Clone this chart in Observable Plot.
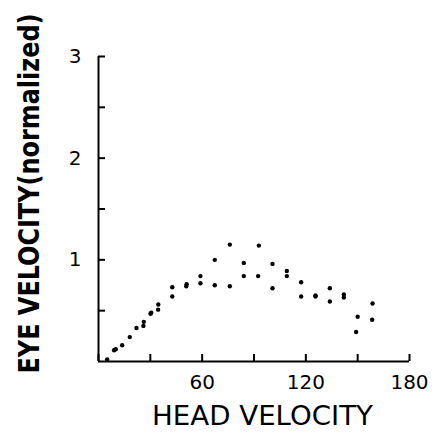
<!DOCTYPE html>
<html>
<head>
<meta charset="utf-8">
<script src="https://cdn.jsdelivr.net/npm/d3@7"></script>
<script src="https://cdn.jsdelivr.net/npm/@observablehq/plot@0.6"></script>
<style>
  html, body { margin: 0; padding: 0; background: #fff; }
  #chart svg { display: block; }
</style>
</head>
<body>
<div id="chart"></div>
<script>
// Data
const headVelocity = [5, 9, 10, 13.7, 18.1, 22, 26, 26.2, 30.1, 30.5, 34.5, 34.6, 42.7, 42.7, 50.8, 51, 59, 59, 67.3, 67.3, 76, 76, 84.1, 84.1, 92.4, 92.8, 100.7, 100.7, 109, 109, 117.3, 117.3, 125.6, 125.6, 133.9, 133.9, 142, 142, 149.1, 150, 158.4, 158.6];
const eyeVelocity  = [0.02, 0.11, 0.12, 0.16, 0.24, 0.33, 0.35, 0.39, 0.47, 0.48, 0.51, 0.56, 0.64, 0.73, 0.74, 0.76, 0.77, 0.84, 0.75, 1.00, 0.74, 1.15, 0.84, 0.97, 0.84, 1.14, 0.72, 0.96, 0.84, 0.89, 0.64, 0.78, 0.64, 0.65, 0.59, 0.72, 0.63, 0.66, 0.29, 0.44, 0.41, 0.57];
const xTicks = [0, 30, 60, 90, 120, 150, 180];
const xTickLabels = [60, 120, 180];
const yTicks = [0.5, 1, 1.5, 2, 2.5, 3];
const yTickLabels = [1, 2, 3];
const xTitle = "HEAD VELOCITY";
const yTitle = "EYE VELOCITY(normalized)";

const points = headVelocity.map((x, i) => ({x, y: eyeVelocity[i]}));
const font = "DejaVu Sans, Liberation Sans, sans-serif";

const W = 437, H = 441, ML = 98, MR = 28, MT = 56, MB = 80;
const xDomain = [0, 180], yDomain = [0, 3];
const TICK = 7; // tick length in px
// tick length expressed in each scale's units
const tickLenY = TICK * (yDomain[1] - yDomain[0]) / (H - MT - MB);
const tickLenX = TICK * (xDomain[1] - xDomain[0]) / (W - ML - MR);

const chart = Plot.plot({
  width: W,
  height: H,
  marginLeft: ML,
  marginRight: MR,
  marginTop: MT,
  marginBottom: MB,
  style: {background: "#fff", color: "#000", fontFamily: font},
  x: {domain: xDomain, axis: null},
  y: {domain: yDomain, axis: null},
  marks: [
    Plot.ruleY([0], {stroke: "#000", strokeWidth: 2}),
    Plot.ruleX([0], {stroke: "#000", strokeWidth: 2}),
    // inward tick marks
    Plot.ruleX(xTicks, {x: d => d, y1: 0, y2: tickLenY, stroke: "#000", strokeWidth: 2}),
    Plot.ruleY(yTicks, {y: d => d, x1: 0, x2: tickLenX, stroke: "#000", strokeWidth: 2}),
    // tick labels
    Plot.axisX(xTickLabels, {tickSize: 0, tickPadding: 13, fontSize: 20, fill: "#000", label: null, tickFormat: d => String(d)}),
    Plot.axisY(yTickLabels, {tickSize: 0, tickPadding: 17, fontSize: 20, fill: "#000", label: null, tickFormat: d => String(d)}),
    // data
    Plot.dot(points, {x: "x", y: "y", r: 2.2, fill: "#000", stroke: null}),
    // titles
    Plot.text([xTitle], {text: d => d, frameAnchor: "bottom", textAnchor: "middle", dx: 8.5, dy: 63, fontSize: 27, fill: "#000"}),
    Plot.text([yTitle], {text: d => d, frameAnchor: "left", textAnchor: "middle", lineAnchor: "middle", rotate: -90, dx: -68, dy: -15.5, fontSize: 28, fontWeight: "bold", fontFamily: "DejaVu Sans Condensed, DejaVu Sans, sans-serif", fill: "#000"})
  ]
});

const svg = d3.select(chart);
svg.selectAll("text").filter(function() { return this.textContent === xTitle; })
  .attr("textLength", 221).attr("lengthAdjust", "spacingAndGlyphs");
svg.selectAll("text").filter(function() { return this.textContent === yTitle; })
  .style("font-stretch", "condensed")
  .attr("textLength", 360).attr("lengthAdjust", "spacingAndGlyphs");

document.getElementById("chart").appendChild(chart);
</script>
</body>
</html>
